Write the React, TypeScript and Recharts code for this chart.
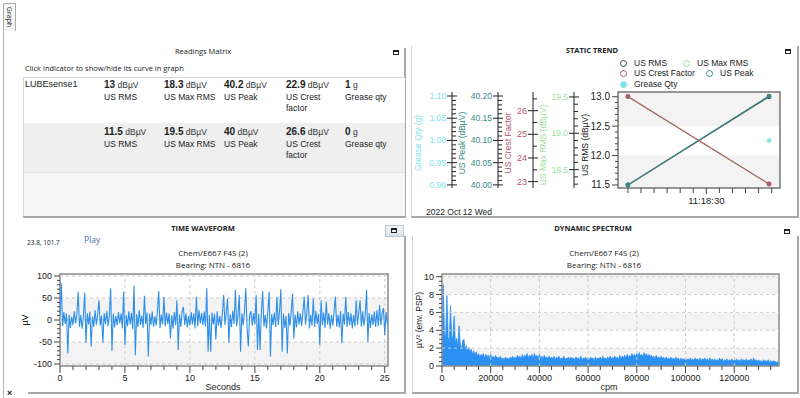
import React from 'react';
import { LineChart, Line, AreaChart, Area, XAxis, YAxis, ReferenceArea, ReferenceLine } from 'recharts';

// ---------- DATA ----------
// Time waveform (µV), one sample every 0.1 s, from 0 s to 25.2 s
const WAVE_STEP = 0.1;
const waveValues = [
  10, 83, -14, 18, -9, 15, -76, 12, -18, 8,
  -12, 20, -8, 14, 64, -16, 11, -20, 9, 62,
  -52, 15, -10, 19, -60, 8, -15, 22, -11, 13,
  45, -13, 10, -52, 16, -9, 21, -14, 12, 72,
  -70, 14, -17, 9, -12, 18, -8, 15, -19, 64,
  -57, 11, -14, 20, -10, 16, -21, 78, -80, 13,
  -16, 22, -12, 10, -18, 55, -9, 17, -83, 14,
  -11, 19, -15, 8, -13, 21, 66, -18, 12, -10,
  52, -14, 17, -9, 15, -42, 11, -20, 18, -12,
  45, -68, 13, -16, 20, 30, -11, 14, -17, 9,
  -13, 18, -10, 15, -19, 53, -14, 22, -8, 16,
  -12, 19, -15, 72, -72, 12, -72, 17, -10, 14,
  -45, 20, -13, 9, -18, 15, 57, -11, 18, 49,
  -52, 13, -16, 21, -9, 68, -14, 10, 57, -72,
  15, -12, 19, 72, -17, -60, 11, 20, -13, 16,
  -10, 57, -68, 14, -68, 18, 66, -15, 12, -19,
  21, 64, -83, 13, -11, 17, -16, 53, -12, 20,
  70, -72, 15, -18, 9, -76, 16, -13, 19, 60,
  -42, 12, -17, 20, -10, 15, -14, 18, 53, -11,
  16, 57, -19, 12, -13, 49, -16, 21, -9, 14,
  -57, 45, -12, 17, -18, 42, -10, 15, -20, 11,
  -13, 19, 53, -15, 12, -17, 20, -53, 14, -10,
  53, -16, 18, -12, 15, -19, 11, -14, 45, -11,
  17, 45, -15, 20, -13, 12, 68, -50, 16, -18,
  13, -11, 19, -16, 22, -14, 34, -12, 15, 27,
  -34, 18, -10,
];

// Dynamic spectrum (µV² env. PSP), one bin every 500 cpm, from 0 to 138000 cpm
const SPEC_STEP = 500;
const spectrumValues = [
  3.4, 9.1, 3.8, 2.9, 7.9, 3.3, 2.6, 6.8, 2.9, 3.4,
  5.6, 2.5, 3.1, 2.2, 4.5, 2.4, 1.9, 2.8, 3.0, 1.8,
  2.3, 1.6, 2.1, 1.5, 1.9, 1.3, 1.7, 1.2, 1.6, 1.1,
  1.4, 1.0, 1.3, 1.1, 1.4, 0.9, 1.3, 1.0, 1.2, 0.9,
  1.3, 0.9, 1.1, 0.8, 1.2, 0.9, 1.0, 0.8, 1.1, 0.7,
  0.9, 0.7, 1.0, 0.8, 0.9, 0.7, 1.0, 0.8, 1.1, 0.8,
  1.0, 0.8, 1.2, 0.9, 1.1, 0.8, 1.3, 0.9, 1.2, 1.0,
  1.4, 0.9, 1.2, 1.0, 1.3, 0.9, 1.4, 1.0, 1.2, 0.9,
  1.3, 0.9, 1.1, 0.8, 1.2, 0.9, 1.0, 0.8, 1.1, 0.8,
  1.0, 0.8, 1.1, 0.7, 1.0, 0.8, 1.1, 0.7, 0.9, 0.8,
  1.1, 0.7, 0.9, 0.8, 1.0, 0.7, 1.0, 0.8, 0.9, 0.7,
  1.0, 0.8, 0.9, 0.7, 1.1, 0.7, 0.9, 0.8, 1.0, 0.7,
  0.9, 0.7, 1.0, 0.8, 0.9, 0.6, 1.0, 0.7, 0.9, 0.8,
  1.0, 0.7, 1.1, 0.8, 0.9, 0.7, 1.0, 0.8, 1.1, 0.8,
  1.0, 0.8, 1.1, 0.8, 1.0, 0.7, 1.2, 0.8, 1.1, 0.9,
  1.2, 0.9, 1.3, 0.9, 1.2, 1.0, 1.4, 1.0, 1.3, 1.1,
  1.4, 1.0, 1.5, 1.1, 1.3, 1.0, 1.5, 1.1, 1.4, 1.0,
  1.3, 1.0, 1.2, 0.9, 1.1, 0.8, 1.2, 0.9, 1.0, 0.8,
  1.1, 0.8, 1.0, 0.7, 1.0, 0.8, 0.9, 0.7, 1.0, 0.7,
  0.9, 0.7, 1.0, 0.7, 0.9, 0.6, 0.9, 0.7, 0.8, 0.7,
  0.9, 0.6, 0.8, 0.7, 0.9, 0.6, 0.8, 0.6, 0.9, 0.7,
  0.8, 0.6, 0.9, 0.6, 0.8, 0.7, 0.9, 0.6, 0.8, 0.6,
  0.9, 0.6, 0.8, 0.5, 0.8, 0.6, 0.7, 0.6, 0.9, 0.6,
  0.8, 0.5, 0.7, 0.6, 0.8, 0.5, 0.7, 0.6, 0.8, 0.5,
  0.7, 0.6, 0.8, 0.5, 0.7, 0.5, 0.8, 0.6, 0.7, 0.5,
  0.8, 0.5, 0.7, 0.6, 0.8, 0.5, 0.9, 0.6, 0.7, 0.5,
  0.7, 0.5, 0.6, 0.4, 0.7, 0.5, 0.6, 0.5, 0.7, 0.4,
  0.6, 0.4, 0.6, 0.5, 0.5, 0.4, 0.5,
];

// Static trend: two readings (seconds since midnight: 11:18:00 and 11:18:54)
const trendTimes = [40680, 40734];
const usRms = [11.5, 13];
const usMaxRms = [19.5, 18.3];
const usPeak = [40, 40.2];
const usCrest = [26.6, 22.9];
const greaseQty = [0, 1];

// Readings matrix rows (latest first)
const readingRows = [
  { sensor: 'LUBEsense1', rms: '13', maxRms: '18.3', peak: '40.2', crest: '22.9', grease: '1' },
  { sensor: '', rms: '11.5', maxRms: '19.5', peak: '40', crest: '26.6', grease: '0' },
];

// Tick labels
const waveXMajor = [0, 5, 10, 15, 20, 25];
const waveYMajor = [-100, -50, 0, 50, 100];
const specXMajor = [0, 20000, 40000, 60000, 80000, 100000, 120000];
const specYMajor = [0, 2, 4, 6, 8, 10];
const rmsMajor = [11.5, 12, 12.5, 13];
const maxRmsMajor = [18.5, 19, 19.5];
const crestMajor = [23, 24, 25, 26];
const peakMajor = [40, 40.05, 40.1, 40.15, 40.2];
const greaseMajor = [0.9, 0.95, 1, 1.05, 1.1];
const trendXMajor = [40710];

// ---------- helpers ----------
const rng = (a: number, b: number, s: number) => {
  const out: number[] = [];
  const n = Math.round((b - a) / s);
  for (let i = 0; i <= n; i++) out.push(Math.round((a + i * s) * 1e6) / 1e6);
  return out;
};
const isMaj = (m: number[], v: number) => m.some((x) => Math.abs(x - v) < 1e-6);

const FONT_UI = '"Open Sans", "Noto Sans", sans-serif';
const FONT_AR = '"Liberation Sans", Arial, sans-serif';

const waveData = waveValues.map((v, i) => ({ t: Math.round(i * WAVE_STEP * 100) / 100, v }));
const specData = spectrumValues.map((v, i) => ({ f: i * SPEC_STEP, v }));
const trendData = trendTimes.map((t, i) => ({
  t, rms: usRms[i], maxRms: usMaxRms[i], peak: usPeak[i], crest: usCrest[i], grease: greaseQty[i],
}));

const fmtTime = (s: number) => {
  const h = Math.floor(s / 3600), m = Math.floor((s % 3600) / 60), sec = Math.round(s % 60);
  const p = (n: number) => String(n).padStart(2, '0');
  return `${p(h)}:${p(m)}:${p(sec)}`;
};

const yTickMain = (majors: number[], fmt: (v: number) => string, size = 9) => (p: any) => {
  const { x, y, payload } = p;
  const v = payload.value;
  const major = isMaj(majors, v);
  return (
    <g>
      <line x1={x - (major ? 6 : 3)} x2={x} y1={y} y2={y} stroke="#444" strokeWidth={1} />
      {major && (
        <text x={x - 8} y={y} textAnchor="end" dominantBaseline="central" fontSize={size} fill="#222" fontFamily={FONT_AR}>
          {fmt(v)}
        </text>
      )}
    </g>
  );
};

const yTickCross = (majors: number[], fmt: (v: number) => string, color: string, size = 9) => (p: any) => {
  const { x, y, payload } = p;
  const v = payload.value;
  const major = isMaj(majors, v);
  return (
    <g>
      <line x1={major ? x - 5 : x} x2={major ? x + 5 : x + 4} y1={y} y2={y} stroke="#222" strokeWidth={1} />
      {major && (
        <text x={x - 6} y={y} textAnchor="end" dominantBaseline="central" fontSize={size} fill={color} fontFamily={FONT_AR}>
          {fmt(v)}
        </text>
      )}
    </g>
  );
};

const xTickMain = (majors: number[], fmt: (v: number) => string, size = 9, majLen = 7, minLen = 4) => (p: any) => {
  const { x, y, payload } = p;
  const v = payload.value;
  const major = isMaj(majors, v);
  return (
    <g>
      <line x1={x} x2={x} y1={y} y2={y + (major ? majLen : minLen)} stroke="#444" strokeWidth={1} />
      {major && (
        <text x={x} y={y + 12} textAnchor="middle" dominantBaseline="central" fontSize={size} fill="#222" fontFamily={FONT_AR}>
          {fmt(v)}
        </text>
      )}
    </g>
  );
};

function T(props: any) {
  const { x, y, children, size = 9, anchor = 'start', bold = false, color = '#222', font = FONT_AR, rotate = 0 } = props;
  const tx = anchor === 'start' ? '0' : anchor === 'middle' ? '-50%' : '-100%';
  return (
    <div
      style={{
        position: 'absolute', left: x, top: y, fontSize: size, fontFamily: font, fontWeight: bold ? 700 : 400,
        color, lineHeight: 1, whiteSpace: 'nowrap',
        transform: rotate ? `translate(-50%, -50%) rotate(${rotate}deg)` : `translate(${tx}, -50%)`,
      }}
    >
      {children}
    </div>
  );
}

const MinIcon = ({ x, y }: any) => (
  <div style={{ position: 'absolute', left: x, top: y, width: 4, height: 2, border: '1px solid #222', borderTopWidth: 2 }} />
);

const C = {
  rms: '#2f4f4f', maxRms: '#9be39a', crest: '#b5566a', peak: '#3a8a86', grease: '#7fe3ea',
  wave: '#2f8fe8', spec: '#2b90f2', band: '#f3f3f3', grid: '#cccccc', frame: '#8a8a8a',
};

function Cell({ x, y, value, unit, label1, label2 }: any) {
  return (
    <>
      <T x={x} y={y} size={10}>
        <span style={{ fontWeight: 700 }}>{value}</span>
        <span style={{ fontSize: 8.5, color: '#333' }}> {unit}</span>
      </T>
      <T x={x} y={y + 12} size={8.5}>{label1}</T>
      {label2 && <T x={x} y={y + 22.5} size={8.5}>{label2}</T>}
    </>
  );
}

// y-axis ids: Recharts stacks left axes by id order (first = next to the plot)
const AX = { rms: 'a_rms', maxRms: 'b_maxrms', crest: 'c_crest', peak: 'd_peak', grease: 'e_grease' };

export default function App() {
  const waveDom: [number, number] = [0, 25.25];
  const waveYDom: [number, number] = [-104.5, 104.5];
  const specDom: [number, number] = [0, 138400];
  const specYDom: [number, number] = [0, 10.3];
  const trendDom: [number, number] = [40676.2, 40738.2];
  const rmsDom: [number, number] = [11.449, 13.08];

  return (
    <div style={{ position: 'absolute', left: 0, top: 0, width: 800, height: 398, background: '#fff', overflow: 'hidden', fontFamily: FONT_AR }}>
      {/* Graph tab */}
      <div style={{ position: 'absolute', left: 3, top: 3, width: 11, height: 27, border: '1px solid #aaa', borderBottom: 'none', background: '#f6f6f6' }} />
      <T x={9} y={17} size={7} rotate={90} font={FONT_UI}>Graph</T>
      <div style={{ position: 'absolute', left: 3, top: 30, width: 0, height: 368, borderLeft: '1px solid #b5b5b5' }} />

      {/* Readings Matrix panel */}
      <T x={203} y={52} size={7.5} anchor="middle" font={FONT_UI}>Readings Matrix</T>
      <MinIcon x={393} y={50} />
      <T x={25} y={69} size={7.5} font={FONT_UI}>Click indicator to show/hide its curve in graph</T>
      <div style={{ position: 'absolute', left: 404, top: 48, width: 0, height: 170, borderLeft: '2px solid #a8a8a8' }} />
      <div style={{ position: 'absolute', left: 23, top: 77, width: 381, height: 46, background: '#fff', borderTop: '1px solid #d8d8d8', borderLeft: '1px solid #d8d8d8' }} />
      <div style={{ position: 'absolute', left: 23, top: 123, width: 381, height: 49, background: '#efefef', borderLeft: '1px solid #d8d8d8' }} />
      <div style={{ position: 'absolute', left: 23, top: 172, width: 381, height: 44, background: '#f6f6f6', borderLeft: '1px solid #d8d8d8', borderTop: '1px solid #e4e4e4' }} />
      <div style={{ position: 'absolute', left: 23, top: 216, width: 383, height: 0, borderTop: '2px solid #a8a8a8' }} />
      {readingRows.map((r, i) => {
        const y = i === 0 ? 85 : 132;
        return (
          <React.Fragment key={i}>
            {r.sensor && <T x={25} y={y - 1} size={9}>{r.sensor}</T>}
            <Cell x={104} y={y} value={r.rms} unit="dBµV" label1="US RMS" />
            <Cell x={164} y={y} value={r.maxRms} unit="dBµV" label1="US Max RMS" />
            <Cell x={224} y={y} value={r.peak} unit="dBµV" label1="US Peak" />
            <Cell x={286} y={y} value={r.crest} unit="dBµV" label1="US Crest" label2="factor" />
            <Cell x={345} y={y} value={r.grease} unit="g" label1="Grease qty" />
          </React.Fragment>
        );
      })}

      {/* Static trend panel */}
      <div style={{ position: 'absolute', left: 411, top: 46, width: 0, height: 171, borderLeft: '1px solid #d4d4d4' }} />
      <div style={{ position: 'absolute', left: 797, top: 46, width: 0, height: 171, borderLeft: '2px solid #a8a8a8' }} />
      <div style={{ position: 'absolute', left: 411, top: 216, width: 388, height: 0, borderTop: '2px solid #a8a8a8' }} />
      <T x={592} y={51} size={7.5} bold anchor="middle" font={FONT_UI}>STATIC TREND</T>
      <MinIcon x={785} y={49} />
      {[
        { label: 'US RMS', color: C.rms, x: 623, y: 63, filled: false },
        { label: 'US Max RMS', color: C.maxRms, x: 686, y: 63, filled: false },
        { label: 'US Crest Factor', color: C.crest, x: 623, y: 73, filled: false },
        { label: 'US Peak', color: C.peak, x: 709, y: 73, filled: false },
        { label: 'Grease Qty', color: C.grease, x: 623, y: 84, filled: true },
      ].map((l) => (
        <React.Fragment key={l.label}>
          <div style={{ position: 'absolute', left: l.x - 3.5, top: l.y - 3.5, width: 5, height: 5, borderRadius: '50%', border: `1.2px solid ${l.color}`, background: l.filled ? l.color : 'transparent' }} />
          <T x={l.x + 11} y={l.y} size={8.5}>{l.label}</T>
        </React.Fragment>
      ))}
      <T x={418} y={143} size={8.5} rotate={-90} color={C.grease}>Grease Qty (g)</T>
      <T x={462} y={143} size={8.5} rotate={-90} color={C.peak}>US Peak (dBµV)</T>
      <T x={508} y={143} size={8.5} rotate={-90} color={C.crest}>US Crest Factor</T>
      <T x={543} y={145} size={8.5} rotate={-90} color={C.maxRms}>US Max RMS (dBµV)</T>
      <T x={585} y={145} size={8.5} rotate={-90} color="#222">US RMS (dBµV)</T>
      <T x={426} y={212} size={8.5}>2022 Oct 12 Wed</T>
      <div style={{ position: 'absolute', left: 400, top: 85 }}>
        <LineChart width={400} height={120} data={trendData} margin={{ top: 7, right: 20, bottom: 2, left: 7 }}>
          <XAxis dataKey="t" type="number" domain={trendDom} allowDataOverflow ticks={rng(40680, 40735, 5)} interval={0}
            tickLine={false} axisLine={false} tickSize={0} tickMargin={0} height={15}
            tick={xTickMain(trendXMajor, fmtTime, 9.5, 6, 5)} />
          <YAxis yAxisId={AX.rms} type="number" domain={rmsDom} allowDataOverflow ticks={rng(11.5, 13, 0.1)} interval={0}
            tickLine={false} axisLine={false} tickSize={0} tickMargin={0} width={44}
            tick={yTickMain(rmsMajor, (v) => v.toFixed(1), 10)} />
          <YAxis yAxisId={AX.maxRms} type="number" domain={[18.247, 19.568]} allowDataOverflow ticks={rng(18.3, 19.5, 0.1)} interval={0}
            tickLine={false} axisLine={{ stroke: '#222' }} tickSize={0} tickMargin={0} width={41}
            tick={yTickCross(maxRmsMajor, (v) => v.toFixed(1), C.maxRms, 8.5)} />
          <YAxis yAxisId={AX.crest} type="number" domain={[22.73, 26.79]} allowDataOverflow ticks={rng(23, 26.5, 0.5)} interval={0}
            tickLine={false} axisLine={{ stroke: '#222' }} tickSize={0} tickMargin={0} width={35}
            tick={yTickCross(crestMajor, (v) => v.toFixed(0), C.crest, 9)} />
          <YAxis yAxisId={AX.peak} type="number" domain={[39.993, 40.209]} allowDataOverflow ticks={rng(40, 40.2, 0.01)} interval={0}
            tickLine={false} axisLine={{ stroke: '#222' }} tickSize={0} tickMargin={0} width={46}
            tick={yTickCross(peakMajor, (v) => v.toFixed(2), C.peak, 8.5)} />
          <YAxis yAxisId={AX.grease} type="number" domain={[0.893, 1.109]} allowDataOverflow ticks={rng(0.9, 1.1, 0.01)} interval={0}
            tickLine={false} axisLine={{ stroke: '#222' }} tickSize={0} tickMargin={0} width={45}
            tick={yTickCross(greaseMajor, (v) => v.toFixed(2), C.grease, 8.5)} />
          <ReferenceArea yAxisId={AX.rms} x1={trendDom[0]} x2={trendDom[1]} y1={12.5} y2={rmsDom[1]} fill={C.band} fillOpacity={1} stroke="none" />
          <ReferenceArea yAxisId={AX.rms} x1={trendDom[0]} x2={trendDom[1]} y1={rmsDom[0]} y2={12} fill={C.band} fillOpacity={1} stroke="none" />
          <Line yAxisId={AX.maxRms} dataKey="maxRms" stroke={C.maxRms} strokeWidth={1.2} dot={{ r: 1.8, fill: C.maxRms, stroke: C.maxRms }} isAnimationActive={false} />
          <Line yAxisId={AX.rms} dataKey="rms" stroke={C.rms} strokeWidth={1.3} dot={{ r: 1.8, fill: C.rms, stroke: C.rms }} isAnimationActive={false} />
          <Line yAxisId={AX.peak} dataKey="peak" stroke={C.peak} strokeWidth={1.1} dot={{ r: 1.8, fill: C.peak, stroke: C.peak }} isAnimationActive={false} />
          <Line yAxisId={AX.crest} dataKey="crest" stroke={C.crest} strokeWidth={1.2} dot={{ r: 1.8, fill: C.crest, stroke: C.crest }} isAnimationActive={false} />
          <Line yAxisId={AX.grease} dataKey="grease" stroke="none" strokeWidth={0} dot={{ r: 2.2, fill: C.grease, stroke: C.grease }} isAnimationActive={false} />
          <ReferenceArea yAxisId={AX.rms} x1={trendDom[0]} x2={trendDom[1]} y1={rmsDom[0]} y2={rmsDom[1]} fill="none" stroke="#777" strokeWidth={1.5} />
        </LineChart>
      </div>

      {/* Time waveform panel */}
      <div style={{ position: 'absolute', left: 404, top: 236, width: 0, height: 158, borderLeft: '2px solid #a8a8a8' }} />
      <div style={{ position: 'absolute', left: 28, top: 392, width: 378, height: 0, borderTop: '2px solid #a8a8a8' }} />
      <T x={203} y={229} size={7.5} bold anchor="middle" font={FONT_UI}>TIME WAVEFORM</T>
      <div style={{ position: 'absolute', left: 385, top: 225, width: 17, height: 10, border: '1px solid #b9c6d4', background: 'linear-gradient(#f3f6fa, #d9e3ee)' }} />
      <MinIcon x={391} y={228} />
      <T x={27} y={243} size={6.5} font={FONT_UI}>23.8, 101.7</T>
      <T x={84} y={240} size={8.5} color="#4a6fae" font={FONT_UI}>Play</T>
      <T x={213} y={253} size={8} anchor="middle" font={FONT_UI}>Chem/E667 F4S (2)</T>
      <T x={213} y={264.5} size={8} anchor="middle" font={FONT_UI}>Bearing: NTN - 6816</T>
      <T x={25} y={320} size={9} rotate={-90}>µV</T>
      <T x={223} y={387} size={9} anchor="middle">Seconds</T>
      <div style={{ position: 'absolute', left: 0, top: 266 }}>
        <LineChart width={400} height={130} data={waveData} margin={{ top: 8, right: 12, bottom: 0, left: 18 }}>
          <XAxis dataKey="t" type="number" domain={waveDom} allowDataOverflow ticks={rng(0, 25, 1)} interval={0}
            tickLine={false} axisLine={false} tickSize={0} tickMargin={0} height={30}
            tick={xTickMain(waveXMajor, (v) => String(v), 9)} />
          <YAxis type="number" domain={waveYDom} allowDataOverflow ticks={rng(-100, 100, 10)} interval={0}
            tickLine={false} axisLine={false} tickSize={0} tickMargin={0} width={42}
            tick={yTickMain(waveYMajor, (v) => String(v), 9)} />
          <ReferenceArea x1={0} x2={waveDom[1]} y1={waveYDom[0]} y2={-50} fill={C.band} fillOpacity={1} stroke="none" />
          <ReferenceArea x1={0} x2={waveDom[1]} y1={0} y2={50} fill={C.band} fillOpacity={1} stroke="none" />
          {waveXMajor.filter((v) => v > 0).map((v) => (
            <ReferenceLine key={'wx' + v} x={v} stroke={C.grid} strokeDasharray="3 3" />
          ))}
          {waveYMajor.map((v) => (
            <ReferenceLine key={'wy' + v} y={v} stroke={C.grid} strokeDasharray="3 3" />
          ))}
          <Line dataKey="v" type="linear" stroke={C.wave} strokeWidth={1.1} dot={false} isAnimationActive={false} />
          <ReferenceArea x1={0} x2={waveDom[1]} y1={waveYDom[0]} y2={waveYDom[1]} fill="none" stroke={C.frame} strokeWidth={1.5} />
        </LineChart>
      </div>

      {/* Dynamic spectrum panel */}
      <div style={{ position: 'absolute', left: 412, top: 236, width: 0, height: 157, borderLeft: '1px solid #d4d4d4' }} />
      <div style={{ position: 'absolute', left: 797, top: 236, width: 0, height: 157, borderLeft: '2px solid #a8a8a8' }} />
      <div style={{ position: 'absolute', left: 412, top: 392, width: 387, height: 0, borderTop: '2px solid #a8a8a8' }} />
      <T x={593} y={229} size={7.5} bold anchor="middle" font={FONT_UI}>DYNAMIC SPECTRUM</T>
      <MinIcon x={784} y={229} />
      <T x={604} y={253} size={8} anchor="middle" font={FONT_UI}>Chem/E667 F4S (2)</T>
      <T x={604} y={264.5} size={8} anchor="middle" font={FONT_UI}>Bearing:  NTN - 6816</T>
      <T x={419} y={320} size={8.5} rotate={-90}>µV² (env. PSP)</T>
      <T x={609} y={387} size={9} anchor="middle">cpm</T>
      <div style={{ position: 'absolute', left: 400, top: 266 }}>
        <AreaChart width={400} height={130} data={specData} margin={{ top: 8, right: 21, bottom: 0, left: 12 }}>
          <XAxis dataKey="f" type="number" domain={specDom} allowDataOverflow ticks={rng(0, 135000, 5000)} interval={0}
            tickLine={false} axisLine={false} tickSize={0} tickMargin={0} height={30}
            tick={xTickMain(specXMajor, (v) => String(v), 9)} />
          <YAxis type="number" domain={specYDom} allowDataOverflow ticks={rng(0, 10, 0.5)} interval={0}
            tickLine={false} axisLine={false} tickSize={0} tickMargin={0} width={30}
            tick={yTickMain(specYMajor, (v) => String(v), 9)} />
          <ReferenceArea x1={0} x2={specDom[1]} y1={0} y2={2} fill={C.band} fillOpacity={1} stroke="none" />
          <ReferenceArea x1={0} x2={specDom[1]} y1={4} y2={6} fill={C.band} fillOpacity={1} stroke="none" />
          <ReferenceArea x1={0} x2={specDom[1]} y1={8} y2={specYDom[1]} fill={C.band} fillOpacity={1} stroke="none" />
          {specXMajor.filter((v) => v > 0).map((v) => (
            <ReferenceLine key={'sx' + v} x={v} stroke={C.grid} strokeDasharray="3 3" />
          ))}
          {specYMajor.filter((v) => v > 0).map((v) => (
            <ReferenceLine key={'sy' + v} y={v} stroke={C.grid} strokeDasharray="3 3" />
          ))}
          <Area dataKey="v" type="linear" stroke={C.spec} strokeWidth={0.8} fill={C.spec} fillOpacity={1} dot={false} isAnimationActive={false} />
          <ReferenceArea x1={0} x2={specDom[1]} y1={specYDom[0]} y2={specYDom[1]} fill="none" stroke={C.frame} strokeWidth={1.5} />
        </AreaChart>
      </div>

      <T x={7} y={393} size={9} bold>×</T>
    </div>
  );
}
